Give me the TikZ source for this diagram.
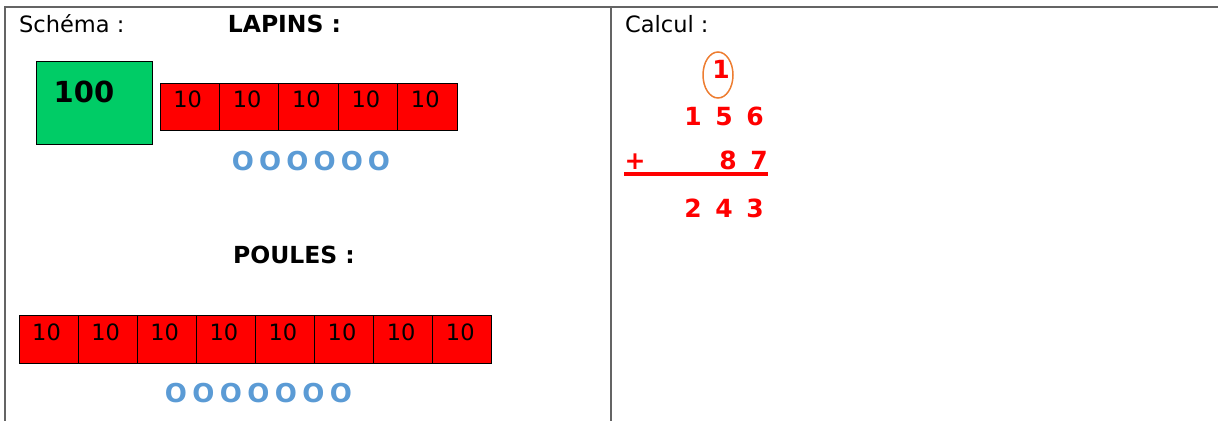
\documentclass[tikz,border=0pt]{standalone}
\usepackage{fontspec}
\setmainfont{DejaVu Sans}
\usetikzlibrary{calc}
\definecolor{vert}{RGB}{0,204,102}
\definecolor{rouge}{RGB}{255,0,0}
\definecolor{bleu}{RGB}{91,155,213}
\definecolor{orangec}{RGB}{237,125,49}
\definecolor{bord}{RGB}{100,100,100}
\begin{document}
\begin{tikzpicture}[x=1pt,y=-1pt,
  frame/.style={draw=bord, line width=1.6pt},
  cellL/.style={draw=black, line width=0.8pt, fill=rouge, minimum width=59.4pt, minimum height=47pt, inner sep=0pt, outer sep=0pt},
  cellP/.style={draw=black, line width=0.8pt, fill=rouge, minimum width=59.1pt, minimum height=48pt, inner sep=0pt, outer sep=0pt},
  celltext/.style={anchor=base, inner sep=0pt, font=\fontsize{22.5}{27}\selectfont},
  title/.style={anchor=base, inner sep=0pt, font=\fontsize{23.5}{28}\selectfont\bfseries},
  plain/.style={anchor=base west, inner sep=0pt, font=\fontsize{22.5}{27}\selectfont},
  ring/.style={inner sep=0pt, text=bleu, font=\fontsize{26}{30}\selectfont\bfseries},
  digit/.style={anchor=base, inner sep=0pt, text=rouge, font=\fontsize{25}{30}\selectfont\bfseries}]
\useasboundingbox (0,0) rectangle (1218,421);
% frame
\coordinate (tl) at (5,7);
\coordinate (tr) at (1218,7);
\coordinate (bl) at (5,421);
\coordinate (dt) at (611,7);
\coordinate (db) at (611,421);
\draw[frame] (tr) -- (tl) -- (bl);
\draw[frame] (dt) -- (db);
% headings
\node[plain] (schema) at (19,32) {Schéma :};
\node[title] (lapins) at (284.5,32) {LAPINS :};
\node[plain] (calcul) at (625,32) {Calcul :};
% green hundred
\node[draw=black, line width=0.8pt, fill=vert, minimum width=116pt, minimum height=83pt, inner sep=0pt] (cent) at (94,102.5) {};
\node[anchor=base, inner sep=0pt, font=\fontsize{29}{34}\selectfont\bfseries] (centt) at (84,102) {100};
% lapins tens
\foreach \i in {0,...,4} {
  \node[cellL] (l\i) at ({189.7+59.4*\i},106.5) {};
  \node[celltext] (lt\i) at ($(l\i.north)+(-2,24)$) {10};
}
\foreach \i in {0,...,5} {
  \node[ring] (lo\i) at ({243+27.2*\i},161) {O};
}
% poules
\node[title] (poules) at (294,263) {POULES :};
\foreach \i in {0,...,7} {
  \node[cellP] (p\i) at ({48.55+59.1*\i},339) {};
  \node[celltext] (pt\i) at ($(p\i.north)+(-2,25)$) {10};
}
\foreach \i in {0,...,6} {
  \node[ring] (po\i) at ({176+27.5*\i},393) {O};
}
% calcul
\node[digit] (c1) at (721,78) {1};
\draw[orangec, line width=1.5pt] (718,75) ellipse [x radius=15, y radius=23];
\node[digit] (a1) at (693,125) {1};
\node[digit] (a2) at (724,125) {5};
\node[digit] (a3) at (755,125) {6};
\node[digit] (plus) at (635,169) {+};
\node[digit] (b2) at (728,169) {8};
\node[digit] (b3) at (759,169) {7};
\coordinate (ls) at (624,174);
\coordinate (le) at (768,174);
\draw[rouge, line width=3.2pt] (ls) -- (le);
\node[digit] (r1) at (693,217) {2};
\node[digit] (r2) at (724,217) {4};
\node[digit] (r3) at (755,217) {3};
\end{tikzpicture}
\end{document}
